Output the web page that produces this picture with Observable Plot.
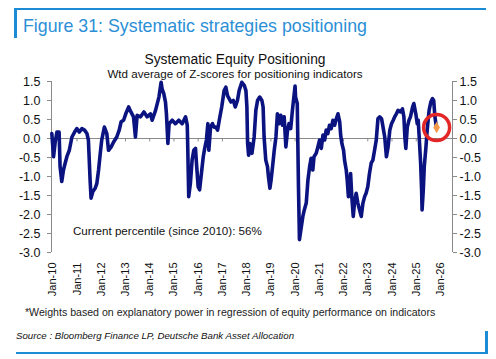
<!DOCTYPE html>
<html>
<head>
<meta charset="utf-8">
<script src="https://cdn.jsdelivr.net/npm/d3@7"></script>
<script src="https://cdn.jsdelivr.net/npm/@observablehq/plot@0.6"></script>
<style>
  html, body { margin: 0; padding: 0; background: #fff; }
  #wrap { position: relative; width: 496px; height: 359px; overflow: hidden; font-family: "Liberation Sans", Arial, sans-serif; background: #fff; }
  #chart { position: absolute; left: 0; top: 0; }
  .t { position: absolute; white-space: nowrap; line-height: 1; z-index: 2; }
  .bar { position: absolute; background: #1b8bd3; z-index: 2; }
</style>
</head>
<body>
<div id="wrap">
  <div class="bar" style="left:14px;top:8px;width:472px;height:2px;"></div>
  <div class="bar" style="left:14px;top:8px;width:3px;height:30px;"></div>
  <div class="t" id="fig" style="left:23px;top:18px;font-size:17.8px;color:#2b8fd6;"></div>
  <div class="t" id="ctitle" style="left:0;width:470px;text-align:center;top:53px;font-size:13.8px;color:#111;"></div>
  <div class="t" id="csub" style="left:0;width:470px;text-align:center;top:68px;font-size:11.6px;color:#111;"></div>
  <div class="t" id="pct" style="left:73px;top:225px;font-size:11.6px;color:#111;"></div>
  <div id="chart"></div>
  <div class="t" id="note" style="left:25px;top:307px;font-size:10.6px;color:#222;"></div>
  <div class="t" id="src" style="left:16px;top:331px;font-size:9.7px;font-style:italic;color:#111;"></div>
  <div class="bar" style="left:16px;top:352px;width:472px;height:2px;"></div>
  <div class="bar" style="left:485px;top:331px;width:3px;height:23px;"></div>
</div>
<script>
const figureTitle = "Figure 31: Systematic strategies positioning";
const chartTitle = "Systematic Equity Positioning";
const chartSubtitle = "Wtd average of Z-scores for positioning indicators";
const percentileNote = "Current percentile (since 2010): 56%";
const footnote = "*Weights based on explanatory power in regression of equity performance on indicators";
const source = "Source : Bloomberg Finance LP, Deutsche Bank Asset Allocation";

const yTicks = [1.5, 1.0, 0.5, 0.0, -0.5, -1.0, -1.5, -2.0, -2.5, -3.0];
const tickYears = [2010, 2011, 2012, 2013, 2014, 2015, 2016, 2017, 2018, 2019, 2020, 2021, 2022, 2023, 2024, 2025, 2026];
const xDomainYears = [2009.946, 2026.496];

// decimal-year dates and positioning z-score values
const years = [
2009.96,2010.03,2010.10,2010.17,2010.26,2010.30,2010.37,2010.44,2010.51,2010.58,2010.68,2010.79,2010.90,2010.99,
2011.09,2011.20,2011.31,2011.41,2011.47,2011.54,2011.58,2011.65,2011.75,2011.82,2011.89,2011.96,
2012.02,2012.13,2012.23,2012.30,2012.41,2012.51,2012.64,2012.74,2012.82,2012.92,
2013.01,2013.13,2013.19,2013.33,2013.41,2013.48,2013.62,2013.76,2013.89,
2014.03,2014.10,2014.24,2014.38,2014.47,2014.51,2014.58,2014.65,2014.69,2014.75,2014.80,2014.93,
2015.06,2015.20,2015.34,2015.48,2015.55,2015.57,2015.61,2015.68,2015.75,2015.82,2015.89,2015.93,
2016.00,2016.06,2016.12,2016.21,2016.27,2016.34,2016.40,2016.44,2016.51,2016.59,2016.65,2016.73,2016.80,2016.87,2016.97,
2017.07,2017.14,2017.21,2017.35,2017.45,2017.53,2017.62,2017.69,2017.80,2017.90,2017.97,
2018.01,2018.04,2018.08,2018.13,2018.22,2018.31,2018.38,2018.45,2018.54,2018.63,2018.68,2018.72,2018.79,2018.86,2018.90,2018.96,
2019.01,2019.07,2019.14,2019.21,2019.27,2019.34,2019.41,2019.48,2019.55,2019.62,2019.69,2019.75,2019.82,2019.89,
2020.00,2020.02,2020.09,2020.11,2020.14,2020.18,2020.24,2020.32,2020.38,2020.46,2020.53,2020.60,2020.66,2020.73,2020.78,2020.87,2020.94,
2021.01,2021.08,2021.15,2021.22,2021.28,2021.35,2021.42,2021.49,2021.56,2021.63,2021.70,2021.77,2021.84,2021.88,2021.93,
2022.00,2022.04,2022.11,2022.15,2022.20,2022.25,2022.29,2022.34,2022.40,2022.45,2022.52,2022.59,2022.66,2022.73,2022.80,2022.87,2022.93,
2023.00,2023.07,2023.14,2023.21,2023.28,2023.35,2023.42,2023.49,2023.57,2023.63,2023.70,2023.77,2023.84,2023.91,2023.98,
2024.05,2024.11,2024.18,2024.25,2024.35,2024.43,2024.49,2024.53,2024.57,2024.63,2024.70,2024.76,2024.85,2024.90,2024.98,
2025.04,2025.08,2025.12,2025.18,2025.22,2025.24,2025.29,2025.33,2025.40,2025.45,2025.53,2025.60,2025.67,2025.72,2025.77,2025.81,2025.84
];
const values = [
0.13,-0.48,-0.09,0.17,0.17,-0.74,-1.13,-0.83,-0.65,-0.48,-0.31,0.04,0.17,0.26,
0.17,0.26,0.22,0.13,-0.04,-1.09,-1.57,-1.40,-1.31,-1.18,-0.83,-0.39,
-0.04,0.30,0.13,-0.31,-0.22,-0.09,0.04,0.22,0.44,0.48,
0.65,0.83,0.74,0.57,0.04,0.61,0.57,0.70,0.57,
0.65,0.48,0.74,1.09,1.48,1.31,1.18,0.96,0.65,-0.13,0.39,0.48,
0.39,0.48,0.39,0.57,0.35,-0.22,-1.53,-1.18,-0.57,-0.31,-0.26,-0.65,
-1.27,-1.35,-1.00,-0.48,-0.26,-0.04,0.39,-0.31,0.30,0.39,0.30,0.30,0.22,0.48,0.83,
1.26,1.35,1.13,0.96,1.00,0.83,1.00,1.26,1.48,1.40,1.26,
0.83,-0.13,-0.44,-0.13,-0.39,0.04,0.74,1.00,1.09,1.00,0.83,0.04,-0.57,-0.74,-1.00,-1.31,
-1.09,-0.74,-0.31,0.04,0.65,0.39,0.61,0.35,0.57,-0.22,0.22,0.39,0.26,0.74,
1.38,1.09,0.92,0.04,-1.27,-2.66,-2.40,-2.05,-1.88,-1.70,-1.09,-0.74,-0.52,-0.83,-0.48,-0.39,-0.22,
-0.04,-0.26,0.09,-0.04,0.22,0.13,0.35,0.26,0.48,0.35,0.52,0.65,0.44,0.09,-0.13,
-0.31,-0.57,-0.83,-1.09,-1.53,-1.35,-0.92,-1.53,-2.05,-1.70,-1.44,-1.70,-1.88,-2.05,-1.70,-1.53,-1.44,
-1.27,-0.92,-0.65,-0.57,-0.31,-0.04,0.52,0.57,0.52,0.30,0.04,-0.48,-0.22,0.22,0.39,
0.48,0.57,0.65,0.74,0.70,0.78,0.57,0.04,-0.26,0.30,0.48,0.57,0.83,0.92,0.65,
0.39,0.48,0.04,-0.65,-1.35,-1.88,-1.35,-0.74,-0.22,0.22,0.74,0.96,1.05,1.00,0.57,0.39,0.30
];
const currentYear = [2025.84];
const currentValue = [0.29];

function toDate(y) {
  const yr = Math.floor(y);
  const start = Date.UTC(yr, 0, 1), end = Date.UTC(yr + 1, 0, 1);
  return new Date(start + (y - yr) * (end - start));
}

const data = years.map((y, i) => ({date: toDate(y), value: values[i]}));
const current = currentYear.map((y, i) => ({date: toDate(y), value: currentValue[i]}));
const tickDates = tickYears.map(y => new Date(Date.UTC(y, 0, 1)));
const xDomain = xDomainYears.map(toDate);
const fmtY = d => d.toFixed(1);
const fmtX = d3.utcFormat("Jan-%y");
const axisGray = "#8a8a8a";

document.getElementById("fig").textContent = figureTitle;
document.getElementById("ctitle").textContent = chartTitle;
document.getElementById("csub").textContent = chartSubtitle;
document.getElementById("pct").textContent = percentileNote;
document.getElementById("note").textContent = footnote;
document.getElementById("src").textContent = source;

const chart = Plot.plot({
  width: 496,
  height: 300,
  marginTop: 81,
  marginBottom: 48,
  marginLeft: 51,
  marginRight: 44,
  style: {background: "transparent", fontFamily: "'Liberation Sans', Arial, sans-serif", color: "#111", overflow: "visible"},
  x: {type: "utc", domain: xDomain},
  y: {domain: [-3, 1.5]},
  marks: [
    Plot.ruleY([0], {stroke: axisGray, strokeWidth: 1}),
    Plot.ruleX(tickDates, {x: d => d, y1: 0, y2: -0.09, stroke: axisGray}),
    Plot.ruleX([xDomain[0]], {x: d => d, y1: -3, y2: 1.5, stroke: axisGray}),
    Plot.ruleX([xDomain[1]], {x: d => d, y1: -3, y2: 1.5, stroke: axisGray}),
    Plot.axisY({anchor: "left", ticks: yTicks, tickFormat: fmtY, tickSize: 4, tickPadding: 7, fontSize: 12.5, stroke: axisGray, label: null}),
    Plot.axisY({anchor: "right", ticks: yTicks, tickFormat: fmtY, tickSize: 4, tickPadding: 3, fontSize: 12.5, stroke: axisGray, label: null}),
    Plot.axisX({anchor: "bottom", ticks: tickDates, tickFormat: fmtX, tickRotate: -90, tickSize: 0, tickPadding: 10, fontSize: 11, label: null}),
    Plot.line(data, {x: "date", y: "value", stroke: "#0a137f", strokeWidth: 3.6, strokeLinejoin: "round"}),
    Plot.dot(current, {x: "date", y: "value", symbol: "diamond", r: 3.5, fill: "#f29a4a", stroke: "none"}),
    Plot.dot(current, {x: "date", y: "value", r: 13, fill: "none", stroke: "#e32626", strokeWidth: 3.5})
  ]
});
document.getElementById("chart").appendChild(chart);
</script>
</body>
</html>
